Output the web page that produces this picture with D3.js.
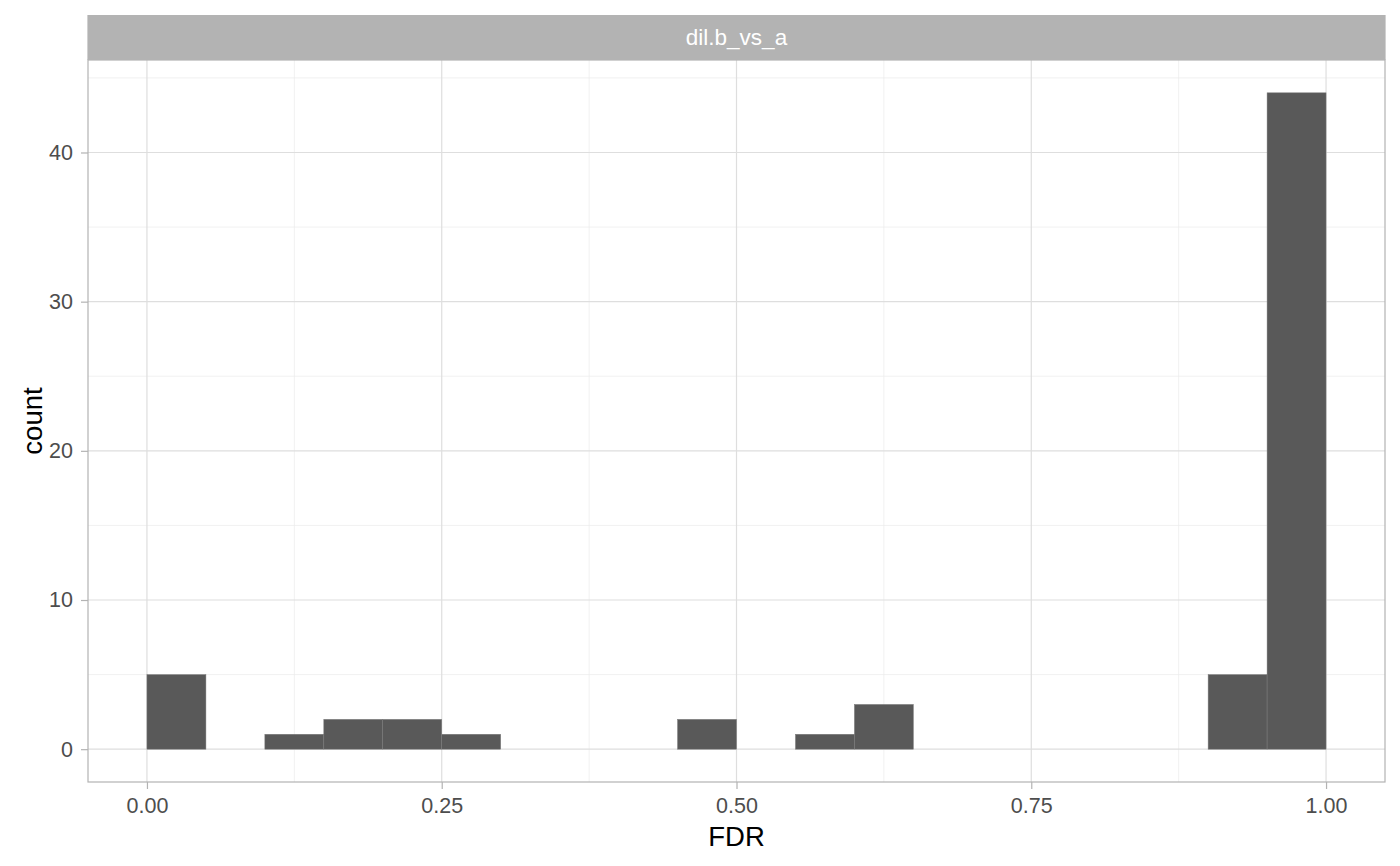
<!DOCTYPE html>
<html>
<head>
<meta charset="utf-8">
<script src="https://cdn.jsdelivr.net/npm/d3@7"></script>
<style>
  body { margin: 0; background: #fff; }
  text { font-family: "Liberation Sans", Arial, sans-serif; }
</style>
</head>
<body>
<div class="chart"></div>
<script>
// Histogram bins (FDR, binwidth 0.05)
let binStarts = [0.00, 0.05, 0.10, 0.15, 0.20, 0.25, 0.30, 0.35, 0.40, 0.45,
                 0.50, 0.55, 0.60, 0.65, 0.70, 0.75, 0.80, 0.85, 0.90, 0.95];
let binCounts = [5, 0, 1, 2, 2, 1, 0, 0, 0, 2,
                 0, 1, 3, 0, 0, 0, 0, 0, 5, 44];
let binWidth = 0.05;
let xTicks = [0, 0.25, 0.5, 0.75, 1];
let xMinor = [0.125, 0.375, 0.625, 0.875];
let yTicks = [0, 10, 20, 30, 40];
let yMinor = [5, 15, 25, 35, 45];
let facetLabel = "dil.b_vs_a";

let svgWidth = 1400;
let svgHeight = 866;

let margin = { top: 60, right: 15, bottom: 84, left: 88 };
let width = svgWidth - margin.left - margin.right;
let height = svgHeight - margin.top - margin.bottom;

let svg = d3.select(".chart")
    .append("svg")
    .attr("width", svgWidth)
    .attr("height", svgHeight);

let chartGroup = svg.append("g")
    .attr("transform", `translate(${margin.left}, ${margin.top})`);

let xScale = d3.scaleLinear().domain([-0.05, 1.05]).range([0, width]);
let yScale = d3.scaleLinear().domain([-2.2, 46.2]).range([height, 0]);

// minor grid
chartGroup.selectAll(".xminor").data(xMinor).enter().append("line")
    .attr("x1", d => xScale(d)).attr("x2", d => xScale(d))
    .attr("y1", 0).attr("y2", height)
    .attr("stroke", "#EBEBEB").attr("stroke-width", 0.7);
chartGroup.selectAll(".yminor").data(yMinor).enter().append("line")
    .attr("y1", d => yScale(d)).attr("y2", d => yScale(d))
    .attr("x1", 0).attr("x2", width)
    .attr("stroke", "#EBEBEB").attr("stroke-width", 0.7);

// major grid
chartGroup.selectAll(".xmajor").data(xTicks).enter().append("line")
    .attr("x1", d => xScale(d)).attr("x2", d => xScale(d))
    .attr("y1", 0).attr("y2", height)
    .attr("stroke", "#DEDEDE").attr("stroke-width", 1.2);
chartGroup.selectAll(".ymajor").data(yTicks).enter().append("line")
    .attr("y1", d => yScale(d)).attr("y2", d => yScale(d))
    .attr("x1", 0).attr("x2", width)
    .attr("stroke", "#DEDEDE").attr("stroke-width", 1.2);

// bars
let bins = binStarts.map((s, i) => ({ x0: s, x1: s + binWidth, n: binCounts[i] }));
chartGroup.selectAll("rect.bar").data(bins.filter(d => d.n > 0)).enter().append("rect")
    .attr("class", "bar")
    .attr("x", d => xScale(d.x0))
    .attr("width", d => xScale(d.x1) - xScale(d.x0))
    .attr("y", d => yScale(d.n))
    .attr("height", d => yScale(0) - yScale(d.n))
    .attr("fill", "#595959")
    .attr("stroke", "#7a7a7a")
    .attr("stroke-width", 0.5);

// panel border
chartGroup.append("rect")
    .attr("x", 0).attr("y", 0).attr("width", width).attr("height", height)
    .attr("fill", "none").attr("stroke", "#B3B3B3").attr("stroke-width", 1.2);

// strip
svg.append("rect")
    .attr("x", margin.left - 0.6).attr("y", 15)
    .attr("width", width + 1.2).attr("height", margin.top - 15)
    .attr("fill", "#B3B3B3");
svg.append("text")
    .attr("x", margin.left + width / 2).attr("y", 45)
    .attr("text-anchor", "middle")
    .attr("fill", "#ffffff")
    .attr("font-size", 22.5)
    .text(facetLabel);

// axes
let bottomAxis = d3.axisBottom(xScale).tickValues(xTicks)
    .tickFormat(d3.format(".2f")).tickSize(7).tickPadding(8.5);
let leftAxis = d3.axisLeft(yScale).tickValues(yTicks)
    .tickSize(7).tickPadding(8);

let xAxis = chartGroup.append("g")
    .attr("transform", `translate(0, ${height})`)
    .call(bottomAxis);
let yAxis = chartGroup.append("g").call(leftAxis);

[xAxis, yAxis].forEach(a => {
    a.select(".domain").remove();
    a.selectAll("line").attr("stroke", "#B3B3B3").attr("stroke-width", 1.2);
    a.selectAll("text").attr("fill", "#4D4D4D").attr("font-size", 21.5)
        .attr("font-family", "Liberation Sans, Arial, sans-serif");
});

// axis titles
svg.append("text")
    .attr("x", margin.left + width / 2).attr("y", 846)
    .attr("text-anchor", "middle")
    .attr("font-size", 27.5)
    .attr("fill", "#000")
    .text("FDR");
svg.append("text")
    .attr("transform", `translate(42, ${margin.top + height / 2}) rotate(-90)`)
    .attr("text-anchor", "middle")
    .attr("font-size", 27.5)
    .attr("fill", "#000")
    .text("count");
</script>
</body>
</html>
